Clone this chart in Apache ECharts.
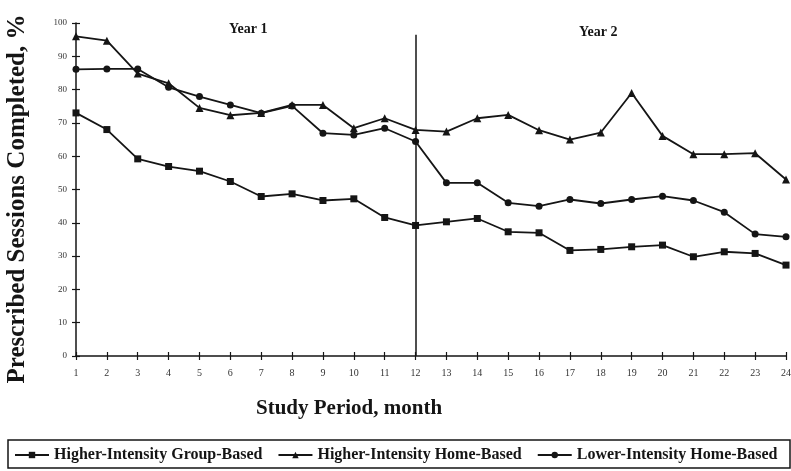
<!DOCTYPE html>
<html>
<head>
<meta charset="utf-8">
<script src="https://cdn.jsdelivr.net/npm/echarts@6/dist/echarts.min.js"></script>
<style>
html,body{margin:0;padding:0;background:#fff;}
#chart{width:791px;height:471px;}
</style>
</head>
<body>
<div id="chart"></div>
<script>
var months = ['1','2','3','4','5','6','7','8','9','10','11','12','13','14','15','16','17','18','19','20','21','22','23','24'];
var groupBased = [73, 68, 59.2, 56.9, 55.5, 52.4, 47.9, 48.7, 46.7, 47.2, 41.6, 39.2, 40.3, 41.3, 37.3, 37, 31.7, 32, 32.8, 33.3, 29.8, 31.3, 30.8, 27.3];
var highHome = [96, 94.7, 84.8, 81.9, 74.5, 72.3, 73, 75.4, 75.4, 68.4, 71.4, 67.9, 67.4, 71.4, 72.4, 67.8, 65, 67.1, 79, 66.1, 60.6, 60.6, 60.9, 53];
var lowHome = [86.1, 86.2, 86.2, 80.7, 77.9, 75.4, 72.9, 75.1, 66.9, 66.4, 68.4, 64.4, 52, 52, 46, 45, 47, 45.8, 47, 48, 46.7, 43.2, 36.6, 35.8];
var seriesNames = ['Higher-Intensity Group-Based', 'Higher-Intensity Home-Based', 'Lower-Intensity Home-Based'];
var yearLabels = ['Year 1', 'Year 2'];
var xTitle = 'Study Period, month';
var yTitle = 'Prescribed Sessions Completed, %';

var serif = '"Liberation Serif", "DejaVu Serif", serif';
var ink = '#151515';

var chart = echarts.init(document.getElementById('chart'), null, {renderer: 'canvas'});

function lineSeries(name, data, symbol, size) {
  return {
    name: name,
    type: 'line',
    data: data,
    symbol: symbol,
    symbolSize: size,
    showAllSymbol: true,
    lineStyle: {color: ink, width: 1.8},
    itemStyle: {color: ink, borderWidth: 0},
    animation: false
  };
}

var s1 = lineSeries(seriesNames[0], groupBased, 'rect', 7);
var s2 = lineSeries(seriesNames[1], highHome, 'triangle', 8);
var s3 = lineSeries(seriesNames[2], lowHome, 'circle', 7);
s1.markLine = {
  silent: true,
  symbol: ['none', 'none'],
  label: {show: false},
  lineStyle: {color: ink, width: 1.5, type: 'solid'},
  data: [[{xAxis: '12', yAxis: 0}, {xAxis: '12', yAxis: 96.5}]],
  animation: false
};

chart.setOption({
  backgroundColor: '#fff',
  animation: false,
  grid: {left: 76, right: 5, top: 23, bottom: 115, containLabel: false, outerBoundsMode: 'none'},
  legend: {
    data: seriesNames,
    left: 14,
    top: 447,
    width: 780,
    padding: 0,
    itemGap: 15,
    itemWidth: 34,
    itemHeight: 8,
    textStyle: {fontFamily: serif, fontWeight: 'bold', fontSize: 16, color: ink}
  },
  xAxis: [{
    type: 'category',
    data: months,
    boundaryGap: false,
    axisLine: {lineStyle: {color: ink, width: 1.5}},
    axisTick: {show: true, inside: false, length: 4, alignWithLabel: true, interval: 0, lineStyle: {color: ink, width: 1.2}},
    axisLabel: {interval: 0, fontFamily: serif, fontSize: 10, color: '#333', margin: 12},
    splitLine: {show: false}
  }, {
    type: 'category',
    data: months,
    boundaryGap: false,
    position: 'bottom',
    axisLine: {show: false},
    axisTick: {show: true, inside: true, length: 4, interval: 0, lineStyle: {color: ink, width: 1.2}},
    axisLabel: {show: false},
    splitLine: {show: false}
  }],
  yAxis: [{
    type: 'value',
    min: 0,
    max: 100,
    interval: 10,
    axisLine: {show: true, lineStyle: {color: ink, width: 1.5}},
    axisTick: {show: true, inside: false, length: 4, lineStyle: {color: ink, width: 1.2}},
    axisLabel: {fontFamily: serif, fontSize: 9, color: '#333', margin: 9},
    splitLine: {show: false}
  }, {
    type: 'value',
    min: 0,
    max: 100,
    interval: 10,
    position: 'left',
    axisLine: {show: false},
    axisTick: {show: true, inside: true, length: 4, lineStyle: {color: ink, width: 1.2}},
    axisLabel: {show: false},
    splitLine: {show: false}
  }],
  graphic: [
    {type: 'text', left: 229, top: 22, style: {text: yearLabels[0], font: 'bold 14px ' + serif, fill: ink}},
    {type: 'text', left: 579, top: 25, style: {text: yearLabels[1], font: 'bold 14px ' + serif, fill: ink}},
    {type: 'text', left: 256, top: 398, style: {text: xTitle, font: 'bold 21px ' + serif, fill: ink}},
    {type: 'text', x: 18, y: 199, rotation: Math.PI / 2,
     style: {text: yTitle, font: 'bold 25px ' + serif, fill: ink, align: 'center', verticalAlign: 'middle'}},
    {type: 'rect', shape: {x: 8, y: 440, width: 782, height: 28}, silent: true,
     style: {fill: 'none', stroke: ink, lineWidth: 1.5}}
  ],
  series: [s1, s2, s3]
});
</script>
</body>
</html>
